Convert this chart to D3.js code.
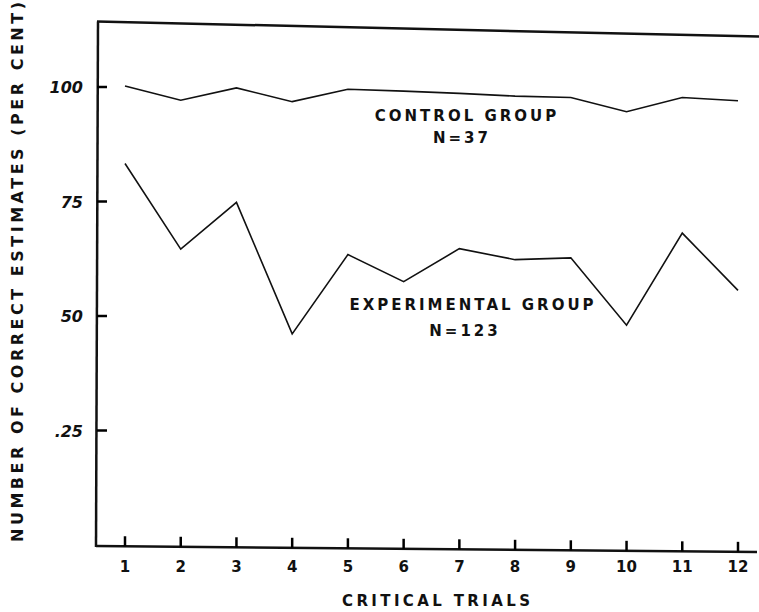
<!DOCTYPE html>
<html>
<head>
<meta charset="utf-8">
<script src="https://cdn.jsdelivr.net/npm/d3@7"></script>
<style>
  body { margin: 0; background: #fff; }
  svg { display: block; }
  text { font-family: "DejaVu Sans", sans-serif; font-weight: bold; fill: #111; }
</style>
</head>
<body>
<svg width="759" height="612"></svg>
<script>
// trials 1..12
var trials = [1, 2, 3, 4, 5, 6, 7, 8, 9, 10, 11, 12];
var control = [100.2, 97.1, 99.8, 96.8, 99.5, 99.1, 98.6, 98.0, 97.7, 94.6, 97.7, 97.0];
var experimental = [83.3, 64.6, 74.8, 46.1, 63.4, 57.5, 64.7, 62.3, 62.7, 48.0, 68.1, 55.6];
var yTicks = [25, 50, 75, 100];
var yTickLabels = [".25", "50", "75", "100"];
// top edge of the hand drawn frame, in per cent, at left and right end
var frameTop = [114.3, 111.0];

var svg = d3.select("svg");

var x = d3.scaleLinear().domain([1, 12]).range([125, 738]);
var y = d3.scaleLinear().domain([0, 100]).range([545, 87]);

var left = 97, right = 757, bottom = 546;

// frame
var frame = svg.append("g")
    .attr("fill", "none")
    .attr("stroke", "#111")
    .attr("stroke-width", 2.5);

frame.append("line")
    .attr("x1", left).attr("y1", y(frameTop[0]))
    .attr("x2", 759).attr("y2", y(frameTop[1]));
frame.append("line")
    .attr("x1", left + 1).attr("y1", y(frameTop[0]))
    .attr("x2", left - 1).attr("y2", bottom + 1);
frame.append("line")
    .attr("x1", left - 1).attr("y1", bottom)
    .attr("x2", right).attr("y2", bottom + 6);

// y ticks, pointing inward
yTicks.forEach(function(d) {
    svg.append("line")
        .attr("x1", left).attr("x2", left + 10)
        .attr("y1", y(d)).attr("y2", y(d))
        .style("stroke", "#000")
        .style("stroke-width", "2.5px");
});

svg.append("g").selectAll("text")
    .data(yTicks)
  .enter().append("text")
    .attr("x", left - 14)
    .attr("y", function(d) { return y(d) + 6; })
    .attr("text-anchor", "end")
    .style("font-size", "16px")
    .style("font-style", "italic")
    .text(function(d, i) { return yTickLabels[i]; });

// x ticks, pointing up, following the slightly tilted base line
trials.forEach(function(d) {
    var base = bottom + (x(d) - left) / (right - left) * 6;
    svg.append("line")
        .attr("x1", x(d)).attr("x2", x(d))
        .attr("y1", base).attr("y2", base - 10)
        .style("stroke", "#000")
        .style("stroke-width", "2.5px");
});

svg.append("g").selectAll("text")
    .data(trials)
  .enter().append("text")
    .attr("x", function(d) { return x(d); })
    .attr("y", 572)
    .attr("text-anchor", "middle")
    .style("font-size", "15px")
    .text(function(d) { return d; });

// data lines
var line = d3.line()
    .x(function(d, i) { return x(trials[i]); })
    .y(function(d) { return y(d); });

[control, experimental].forEach(function(series) {
    svg.append("path")
        .datum(series)
        .attr("fill", "none")
        .attr("stroke", "#111")
        .attr("stroke-width", 1.6)
        .attr("stroke-linejoin", "miter")
        .attr("d", line);
});

// group labels
function label(txt, cx, cy) {
    svg.append("text")
        .attr("x", cx)
        .attr("y", cy)
        .attr("text-anchor", "middle")
        .style("font-size", "15px")
        .style("letter-spacing", "3px")
        .text(txt);
}
label("CONTROL GROUP", 467, 121);
label("N=37", 462, 143);
label("EXPERIMENTAL GROUP", 473, 310);
label("N=123", 465, 336);

// axis titles
svg.append("text")
    .attr("x", 436)
    .attr("y", 606)
    .attr("text-anchor", "middle")
    .style("font-size", "15px")
    .attr("textLength", 188)
    .attr("lengthAdjust", "spacing")
    .text("CRITICAL TRIALS");

svg.append("text")
    .attr("transform", "translate(23,272) rotate(-90)")
    .attr("text-anchor", "middle")
    .style("font-size", "16px")
    .attr("textLength", 540)
    .attr("lengthAdjust", "spacing")
    .text("NUMBER OF CORRECT ESTIMATES  (PER CENT)");
</script>
</body>
</html>
